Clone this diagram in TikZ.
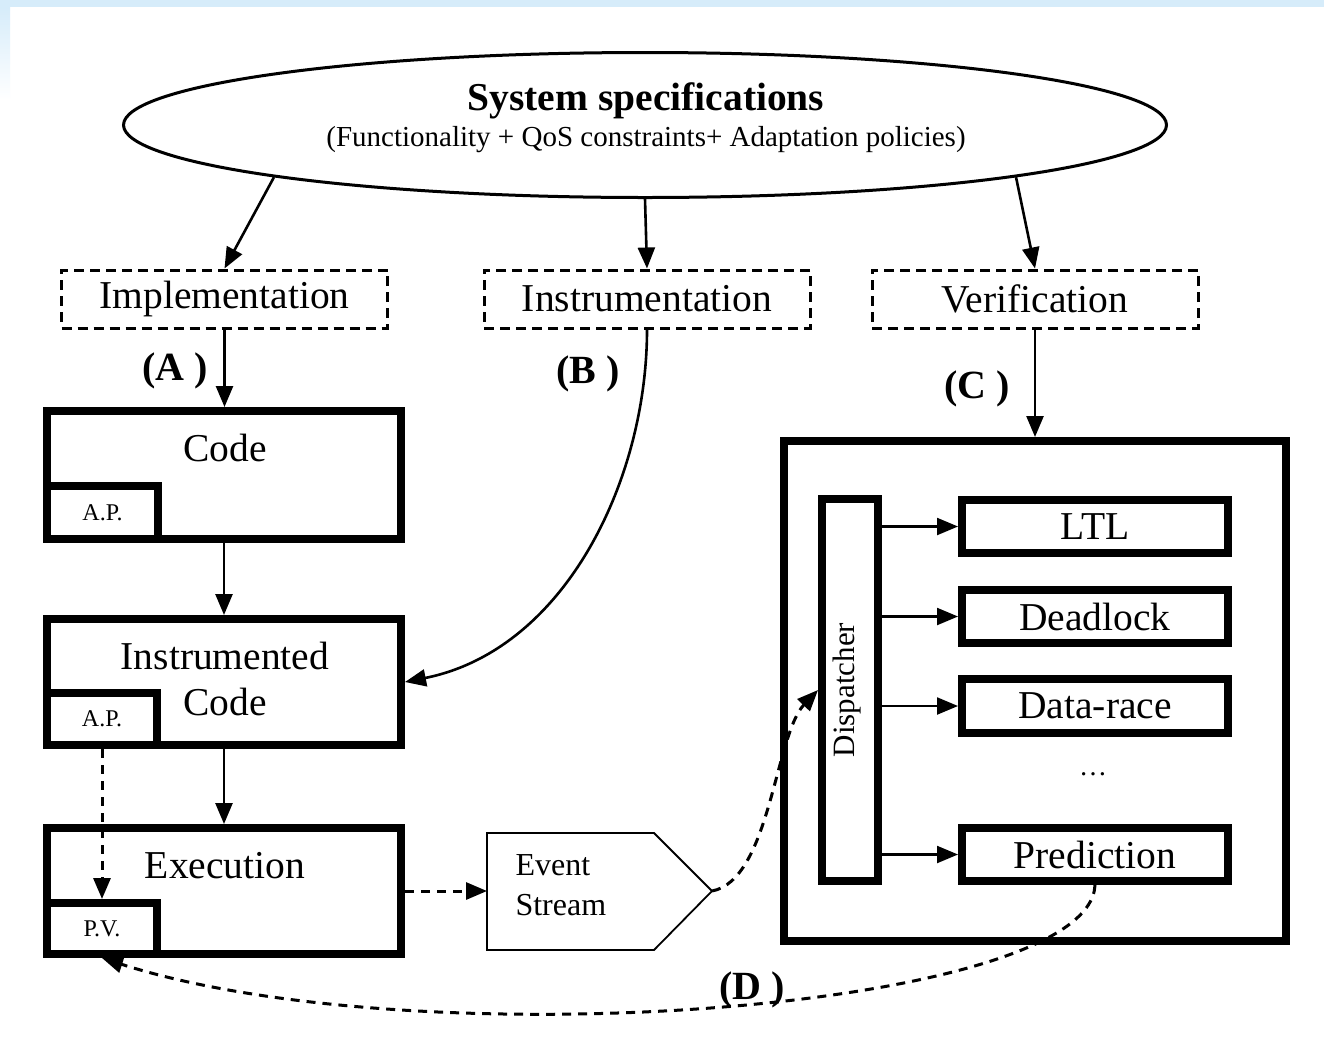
\documentclass[tikz,border=0pt]{standalone}
\usepackage{fontspec}
\setmainfont{Liberation Serif}
\usetikzlibrary{arrows.meta,shapes.geometric}
\definecolor{framebg}{RGB}{214,236,250}

\begin{document}
\begin{tikzpicture}[x=1pt,y=-1pt,
  big/.style={font=\fontsize{39.5}{46}\selectfont},
  tagtext/.style={font=\bfseries\fontsize{40}{46}\selectfont},
  small/.style={font=\fontsize{24}{28}\selectfont},
  heavybox/.style={draw,line width=8pt,inner sep=0pt,rectangle},
  phasebox/.style={draw,line width=3pt,dash pattern=on 10pt off 6pt,inner sep=0pt,
    rectangle,minimum width=326pt,minimum height=58pt,big},
  arrowhd/.style={-{Triangle[length=21pt,width=17pt]}},
  solidlink/.style={arrowhd,line width=2.6pt},
  dashlink/.style={arrowhd,line width=3pt,dash pattern=on 9pt off 7pt}]

% page and light frame
\useasboundingbox (0,0) rectangle (1324,1037);
\fill[white] (0,0) rectangle (1324,1037);
\fill[framebg] (0,0) rectangle (1324,7);
\shade[top color=framebg,bottom color=white] (0,7) rectangle (10,100);

% specification ellipse
\node[draw,ellipse,line width=3pt,minimum width=1043pt,minimum height=145pt,inner sep=0pt] (spec) at (645,125) {};
\node[font=\bfseries\fontsize{39.5}{44}\selectfont] (spectitle) at (646,101) {System specifications};
\node[font=\fontsize{29}{33}\selectfont] (specsub) at (646,140) {(Functionality + QoS constraints+ Adaptation policies)};

% phases
\node[phasebox] (impl) at (224.5,299) {Implementation};
\node[phasebox] (instr) at (647,299) {Instrumentation};
\node[phasebox] (verif) at (1035,299) {Verification};

\draw[solidlink] (spec.188) -- (impl.north);
\draw[solidlink] (spec.south) -- (instr.north);
\draw[solidlink] (spec.352.3) -- (verif.north);

% left column
\node[heavybox,minimum width=354pt,minimum height=128pt] (code) at (224,475) {};
\node[heavybox,minimum width=111pt,minimum height=53pt,small] (ap1) at (102.5,512.5) {A.P.};
\node[big] (codetxt) at (225,448) {Code};

\node[heavybox,minimum width=354pt,minimum height=126pt] (inst) at (224,682) {};
\node[heavybox,minimum width=110pt,minimum height=52pt,small] (ap2) at (102,719) {A.P.};
\node[big,align=center] (insttxt) at (225,679) {Instrumented\\Code};

\node[heavybox,minimum width=354pt,minimum height=126pt] (exec) at (224,891) {};
\node[heavybox,minimum width=110pt,minimum height=51pt,small] (pv) at (102,928.5) {P.V.};
\node[big] (exectxt) at (225,866) {Execution};

\draw[solidlink] (impl.south) -- (impl.south |- code.north);
\node[tagtext] (tagA) at (175,371) {(A )};
\draw[solidlink] (code.south) -- (inst.north);
\draw[solidlink] (inst.south) -- (exec.north);
\draw[dashlink] (ap2.south) -- (pv.north);

% instrumentation feeds the instrumented code
\draw[solidlink] (instr.south) .. controls (647,480) and (565,650) .. (inst.east);
\node[tagtext] (tagB) at (588,374) {(B )};

% event stream
\coordinate (evin) at (487,891);
\coordinate (evtip) at (712,891);
\draw[line width=1.8pt,line join=miter] (487,833) -- (654,833) -- (evtip) -- (654,950) -- (487,950) -- cycle;
\node[font=\fontsize{32}{40}\selectfont,align=left,anchor=west] (evtxt) at (512,885) {Event\\Stream};
\draw[dashlink] (exec.east) -- (evin);

% monitor
\node[heavybox,minimum width=502pt,minimum height=500pt] (mon) at (1035,691) {};
\draw[solidlink] (verif.south) -- (mon.north);
\node[tagtext] (tagC) at (977,389) {(C )};

\node[heavybox,minimum width=56pt,minimum height=382pt] (disp) at (850,690) {};
\node[rotate=90,font=\fontsize{31}{36}\selectfont] (disptxt) at (847,690) {Dispatcher};

\node[heavybox,minimum width=266pt,minimum height=53pt,big] (ltl) at (1095,526.5) {LTL};
\node[heavybox,minimum width=266pt,minimum height=53pt,big] (dead) at (1095,616.5) {Deadlock};
\node[heavybox,minimum width=266pt,minimum height=54pt,big] (race) at (1095,706) {Data-race};
\node[font=\fontsize{28}{32}\selectfont] (more) at (1093,774) {\dots};
\node[heavybox,minimum width=266pt,minimum height=53pt,big] (pred) at (1095,854.5) {Prediction};

\foreach \c in {ltl,dead,race,pred}
  \draw[solidlink,line width=2.2pt] (disp.east |- \c.west) -- (\c.west);

\draw[dashlink] (evtip) .. controls (770,880) and (775,735) .. (disp.west);

% feedback to the program
\draw[dashlink] (pred.south) .. controls (1090,1010) and (420,1060) .. (pv.south);
\node[tagtext] (tagD) at (752,990) {(D )};
\end{tikzpicture}
\end{document}
